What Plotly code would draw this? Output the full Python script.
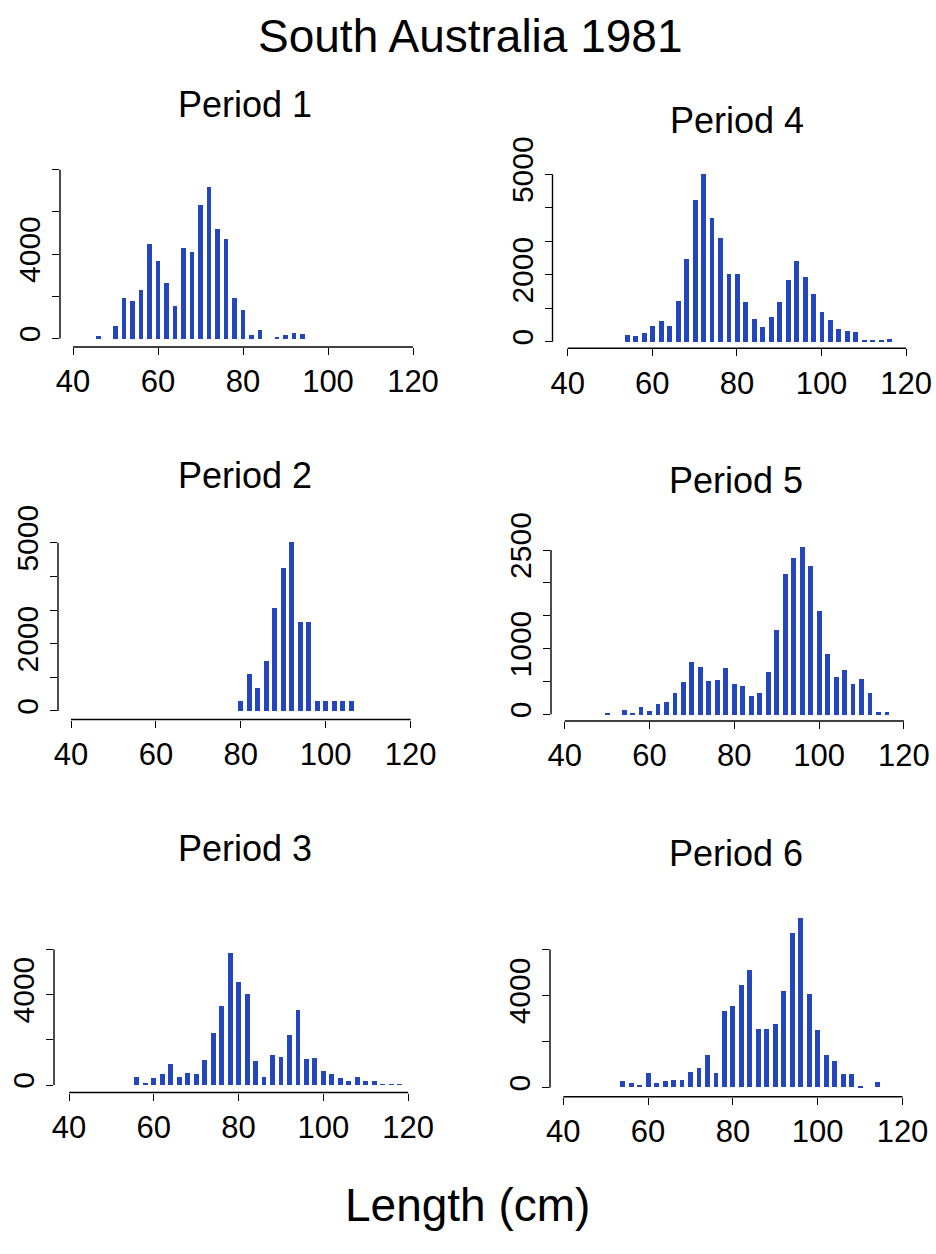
import plotly.graph_objects as go

# Length-frequency data, South Australia 1981 (bin midpoints in cm, counts)
p1_len = [46, 50, 52, 54, 56, 58, 60, 62, 64, 66, 68, 70, 72, 74, 76, 78, 80, 82, 84, 88, 90, 92, 94]
p1_cnt = [150, 600, 1950, 1800, 2300, 4500, 3670, 2630, 1560, 4300, 4140, 6330, 7210, 5210, 4725,
          1950, 1355, 160, 425, 80, 160, 270, 220]

p2_len = [80, 82, 84, 86, 88, 90, 92, 94, 96, 98, 100, 102, 104, 106]
p2_cnt = [300, 1090, 690, 1475, 3060, 4240, 5020, 2650, 2650, 300, 300, 300, 300, 300]

p3_len = [56, 58, 60, 62, 64, 66, 68, 70, 72, 74, 76, 78, 80, 82, 84, 86, 88, 90, 92, 94, 96, 98,
          100, 102, 104, 106, 108, 110, 112, 114, 116, 118]
p3_cnt = [340, 45, 280, 460, 900, 325, 500, 460, 1080, 2280, 3480, 5820, 4540, 4000, 1065, 340,
          1330, 1210, 2220, 3320, 1125, 1185, 600, 460, 300, 150, 325, 150, 150, 15, 15, 15]

p4_len = [54, 56, 58, 60, 62, 64, 66, 68, 70, 72, 74, 76, 78, 80, 82, 84, 86, 88, 90, 92, 94, 96,
          98, 100, 102, 104, 106, 108, 110, 112, 114, 116]
p4_cnt = [200, 170, 250, 450, 620, 460, 1210, 2450, 4220, 5000, 3680, 3080, 2020, 2020, 1180, 680,
          420, 740, 1190, 1840, 2400, 1940, 1430, 885, 640, 370, 320, 280, 40, 40, 40, 70]

p5_len = [50, 54, 56, 58, 60, 62, 64, 66, 68, 70, 72, 74, 76, 78, 80, 82, 84, 86, 88, 90, 92, 94,
          96, 98, 100, 102, 104, 106, 108, 110, 112, 114, 116]
p5_cnt = [15, 76, 15, 120, 56, 167, 193, 335, 500, 796, 730, 517, 527, 715, 470, 436, 280, 330,
          644, 1290, 2135, 2390, 2550, 2265, 1580, 923, 573, 680, 461, 543, 330, 35, 35]

p6_len = [54, 56, 58, 60, 62, 64, 66, 68, 70, 72, 74, 76, 78, 80, 82, 84, 86, 88, 90, 92, 94, 96,
          98, 100, 102, 104, 106, 108, 110, 114]
p6_cnt = [290, 175, 100, 610, 200, 290, 330, 330, 650, 840, 1400, 640, 3330, 3510, 4450, 5090,
          2520, 2545, 2760, 4190, 6680, 7345, 4050, 2500, 1400, 1130, 560, 590, 30, 215]

x_ticks = [40, 60, 80, 100, 120]

# per-panel y ticks and which of them carry a label
p1_yticks, p1_ylabels = [0, 2000, 4000, 6000, 8000], ["0", "", "4000", "", ""]
p2_yticks, p2_ylabels = [0, 1000, 2000, 3000, 4000, 5000], ["0", "", "2000", "", "", "5000"]
p3_yticks, p3_ylabels = [0, 2000, 4000, 6000], ["0", "", "4000", ""]
p4_yticks, p4_ylabels = [0, 1000, 2000, 3000, 4000, 5000], ["0", "", "2000", "", "", "5000"]
p5_yticks, p5_ylabels = [0, 500, 1000, 1500, 2000, 2500], ["0", "", "1000", "", "", "2500"]
p6_yticks, p6_ylabels = [0, 2000, 4000, 6000], ["0", "", "4000", ""]

panels = [
    ("Period 1", p1_len, p1_cnt, p1_yticks, p1_ylabels),
    ("Period 2", p2_len, p2_cnt, p2_yticks, p2_ylabels),
    ("Period 3", p3_len, p3_cnt, p3_yticks, p3_ylabels),
    ("Period 4", p4_len, p4_cnt, p4_yticks, p4_ylabels),
    ("Period 5", p5_len, p5_cnt, p5_yticks, p5_ylabels),
    ("Period 6", p6_len, p6_cnt, p6_yticks, p6_ylabels),
]

# ---- page geometry (pixels) ----
W, H = 936, 1254
# y-axis line x, x position of 40 cm, px per cm, x-axis line y, zero y, px per 1000, title centre
geom = [
    (60.0, 73.0, 4.25, 347.0, 338.5, 21.1, (245, 104)),
    (58.0, 71.0, 4.245, 719.5, 711.0, 33.66, (245, 475)),
    (54.0, 69.0, 4.24, 1092.5, 1085.0, 22.6, (245, 848)),
    (552.5, 567.7, 4.23, 348.3, 341.7, 33.5, (737, 120)),
    (551.0, 564.7, 4.24, 721.0, 714.3, 65.7, (736, 480)),
    (550.0, 563.3, 4.24, 1096.7, 1087.7, 23.05, (736, 853)),
]

FONT = "Liberation Sans, Arial, sans-serif"
BAR = "#2346BE"

fig = go.Figure()
layout = dict(
    width=W, height=H, autosize=False,
    margin=dict(l=0, r=0, t=0, b=0, pad=0, autoexpand=False),
    paper_bgcolor="white", plot_bgcolor="white",
    showlegend=False, bargap=0,
    font=dict(family=FONT, color="black"),
)
shapes, annotations = [], []

for i, ((title, xs, ys, yt, yl), g) in enumerate(zip(panels, geom), start=1):
    yline, x40, ppc, xline, zero, ppk, (tx, ty) = g
    xa = "x" if i == 1 else f"x{i}"
    ya = "y" if i == 1 else f"y{i}"

    fig.add_trace(go.Bar(x=xs, y=ys, width=1.15, marker=dict(color=BAR, line=dict(width=0)),
                         xaxis=xa, yaxis=ya))

    x_lo = 40 - (x40 - yline) / ppc
    x_hi = 124.0
    dom_l = yline
    dom_r = x40 + (x_hi - 40) * ppc

    y_lo = -(xline - zero) / ppk * 1000
    y_hi = max(max(ys), yt[-1]) * 1.03
    dom_b = xline
    dom_t = zero - y_hi / 1000 * ppk

    layout[f"xaxis{i}"] = dict(
        domain=[dom_l / W, dom_r / W], range=[x_lo, x_hi], anchor=ya,
        tickvals=x_ticks, ticktext=[str(v) for v in x_ticks],
        ticks="outside", ticklen=7, tickwidth=1.4, tickcolor="black",
        showline=False, showgrid=False, zeroline=False, automargin=False,
        tickfont=dict(family=FONT, size=31, color="black"),
    )
    layout[f"yaxis{i}"] = dict(
        domain=[1 - dom_b / H, 1 - dom_t / H], range=[y_lo, y_hi], anchor=xa,
        tickvals=yt, ticktext=yl, tickangle=-90,
        ticks="outside", ticklen=7, tickwidth=1.4, tickcolor="black",
        showline=False, showgrid=False, zeroline=False, automargin=False,
        tickfont=dict(family=FONT, size=30, color="black"),
    )

    # R-style axis lines spanning only the tick range
    shapes.append(dict(type="line", xref=xa, yref=f"{ya} domain", x0=40, x1=120, y0=0, y1=0,
                       line=dict(color="black", width=1.4)))
    shapes.append(dict(type="line", xref=f"{xa} domain", yref=ya, x0=0, x1=0, y0=0, y1=yt[-1],
                       line=dict(color="black", width=1.4)))

    annotations.append(dict(text=title, x=tx / W, y=1 - ty / H, xref="paper", yref="paper",
                            showarrow=False, xanchor="center", yanchor="middle",
                            font=dict(family=FONT, size=36, color="black")))

annotations.append(dict(text="South Australia 1981", x=470 / W, y=1 - 36 / H, xref="paper",
                        yref="paper", showarrow=False, xanchor="center", yanchor="middle",
                        font=dict(family=FONT, size=46, color="black")))
annotations.append(dict(text="Length (cm)", x=467 / W, y=1 - 1205 / H, xref="paper",
                        yref="paper", showarrow=False, xanchor="center", yanchor="middle",
                        font=dict(family=FONT, size=46, color="black")))

layout["shapes"] = shapes
layout["annotations"] = annotations
fig.update_layout(**layout)
fig.write_html("out.html", config={"displayModeBar": False},
               post_script="document.body.style.margin='0';document.body.style.overflow='hidden';")
